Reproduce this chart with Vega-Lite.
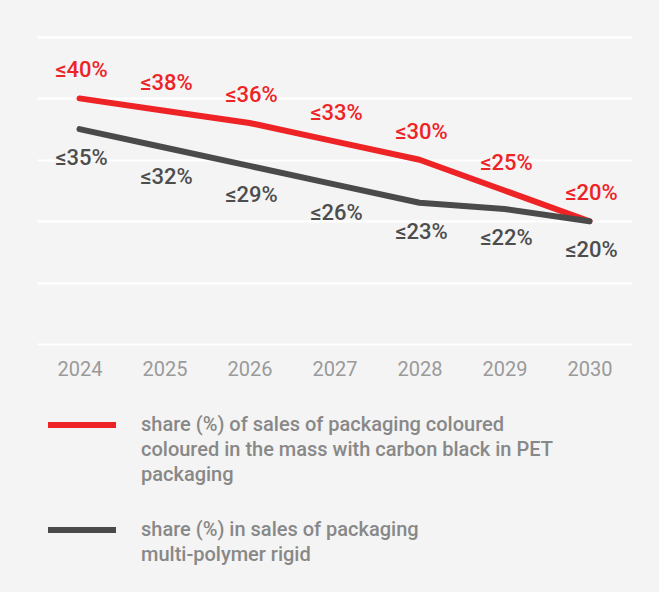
{
  "$schema": "https://vega.github.io/schema/vega-lite/v6.json",
  "width": 595,
  "height": 307,
  "autosize": {"type": "none"},
  "padding": {"left": 37, "top": 37, "right": 27, "bottom": 248},
  "background": "#f4f4f4",
  "config": {
    "view": {"stroke": null},
    "font": "Roboto",
    "style": {"guide-label": {"lineHeight": 25, "dy": 6}}
  },
  "data": {
    "values": [
      {"year": "2024", "series": "share (%) of sales of packaging coloured|coloured in the mass with carbon black in PET|packaging", "value": 40, "label": "≤40%"},
      {"year": "2025", "series": "share (%) of sales of packaging coloured|coloured in the mass with carbon black in PET|packaging", "value": 38, "label": "≤38%"},
      {"year": "2026", "series": "share (%) of sales of packaging coloured|coloured in the mass with carbon black in PET|packaging", "value": 36, "label": "≤36%"},
      {"year": "2027", "series": "share (%) of sales of packaging coloured|coloured in the mass with carbon black in PET|packaging", "value": 33, "label": "≤33%"},
      {"year": "2028", "series": "share (%) of sales of packaging coloured|coloured in the mass with carbon black in PET|packaging", "value": 30, "label": "≤30%"},
      {"year": "2029", "series": "share (%) of sales of packaging coloured|coloured in the mass with carbon black in PET|packaging", "value": 25, "label": "≤25%"},
      {"year": "2030", "series": "share (%) of sales of packaging coloured|coloured in the mass with carbon black in PET|packaging", "value": 20, "label": "≤20%"},
      {"year": "2024", "series": "share (%) in sales of packaging|multi-polymer rigid", "value": 35, "label": "≤35%"},
      {"year": "2025", "series": "share (%) in sales of packaging|multi-polymer rigid", "value": 32, "label": "≤32%"},
      {"year": "2026", "series": "share (%) in sales of packaging|multi-polymer rigid", "value": 29, "label": "≤29%"},
      {"year": "2027", "series": "share (%) in sales of packaging|multi-polymer rigid", "value": 26, "label": "≤26%"},
      {"year": "2028", "series": "share (%) in sales of packaging|multi-polymer rigid", "value": 23, "label": "≤23%"},
      {"year": "2029", "series": "share (%) in sales of packaging|multi-polymer rigid", "value": 22, "label": "≤22%"},
      {"year": "2030", "series": "share (%) in sales of packaging|multi-polymer rigid", "value": 20, "label": "≤20%"}
    ]
  },
  "encoding": {
    "x": {
      "field": "year", "type": "ordinal",
      "scale": {"type": "point", "padding": 0.5},
      "axis": {"title": null, "labelAngle": 0, "ticks": false, "tickSize": 0, "domain": false, "grid": false,
               "labelColor": "#9a9a9a", "labelFontSize": 20, "labelPadding": 9}
    },
    "y": {
      "field": "value", "type": "quantitative",
      "scale": {"domain": [0, 50], "nice": false},
      "axis": {"title": null, "labels": false, "ticks": false, "domain": false, "grid": true,
               "gridColor": "#ffffff", "gridWidth": 2, "values": [0, 10, 20, 30, 40, 50]}
    }
  },
  "layer": [
    {
      "mark": {"type": "line", "strokeWidth": 6, "strokeCap": "round", "strokeJoin": "round"},
      "encoding": {
        "color": {
          "field": "series", "type": "nominal",
          "scale": {"domain": ["share (%) of sales of packaging coloured|coloured in the mass with carbon black in PET|packaging", "share (%) in sales of packaging|multi-polymer rigid"],
                    "range": ["#ee2326", "#4a4a4a"]},
          "legend": {
            "title": null, "orient": "none", "legendX": 8, "legendY": 351,
            "padding": 0, "symbolType": "stroke", "symbolSize": 4624, "symbolStrokeWidth": 6,
            "labelExpr": "split(datum.label, '|')", "labelFontSize": 20, "labelColor": "#888888",
            "labelFontWeight": 500, "labelLimit": 600, "labelOffset": 22, "labelBaseline": "alphabetic",
            "rowPadding": 8, "direction": "vertical"
          }
        }
      }
    },
    {
      "transform": [{"filter": "indexof(datum.series, 'carbon') >= 0"}],
      "mark": {"type": "text", "dy": -28, "dx": 2, "fontSize": 22, "fontWeight": 500, "color": "#ee2326"},
      "encoding": {"text": {"field": "label"}}
    },
    {
      "transform": [{"filter": "indexof(datum.series, 'carbon') < 0"}],
      "mark": {"type": "text", "dy": 29, "dx": 2, "fontSize": 22, "fontWeight": 500, "color": "#4d4d4d"},
      "encoding": {"text": {"field": "label"}}
    }
  ]
}
